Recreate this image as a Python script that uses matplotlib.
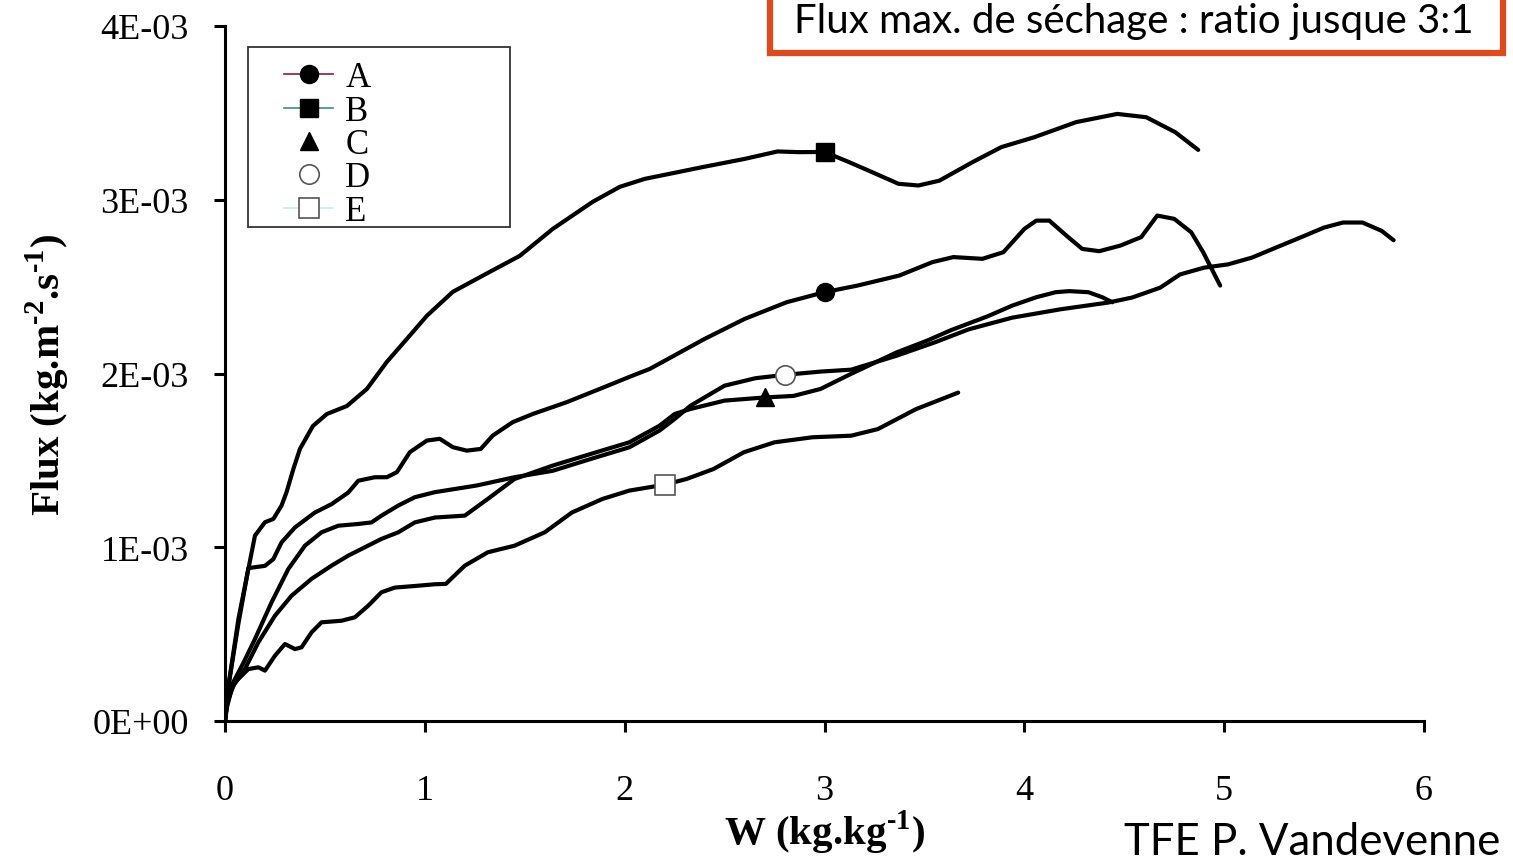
import numpy as np
import matplotlib
matplotlib.use("Agg")
import matplotlib.pyplot as plt
from matplotlib.lines import Line2D
from matplotlib.patches import Rectangle

plt.rcParams['font.family'] = ['Liberation Serif', 'DejaVu Serif']
plt.rcParams['mathtext.fontset'] = 'custom'
plt.rcParams['mathtext.rm'] = 'Liberation Serif:bold'
plt.rcParams['mathtext.bf'] = 'Liberation Serif:bold'

# W (kg/kg) and flux (x 1E-03 kg.m-2.s-1)
A_w = [0, 0.005, 0.017, 0.067, 0.117, 0.2, 0.242, 0.283, 0.35, 0.45, 0.533, 0.617, 0.667, 0.75, 0.81, 0.86,
       0.925, 1.01, 1.075, 1.14, 1.21, 1.28, 1.34, 1.44, 1.54, 1.71, 1.875, 2.04, 2.125, 2.4, 2.6, 2.81, 3.0,
       3.165, 3.375, 3.54, 3.645, 3.79, 3.895, 4.0, 4.06, 4.125, 4.21, 4.29, 4.375, 4.48, 4.585, 4.665, 4.75,
       4.835, 4.895, 4.98]
A_f = [0, 0.1, 0.2, 0.56, 0.88, 0.893, 0.932, 1.028, 1.114, 1.2, 1.248, 1.315, 1.383, 1.403, 1.403, 1.432,
       1.547, 1.614, 1.624, 1.576, 1.556, 1.566, 1.643, 1.72, 1.767, 1.835, 1.911, 1.988, 2.026, 2.199, 2.314,
       2.41, 2.468, 2.506, 2.564, 2.641, 2.67, 2.66, 2.698, 2.832, 2.88, 2.88, 2.794, 2.717, 2.704, 2.736,
       2.785, 2.909, 2.89, 2.813, 2.698, 2.506]

B_w = [0, 0.005, 0.017, 0.067, 0.117, 0.15, 0.2, 0.242, 0.283, 0.308, 0.342, 0.375, 0.44, 0.51, 0.61, 0.71,
       0.81, 0.91, 1.01, 1.14, 1.325, 1.475, 1.64, 1.84, 1.975, 2.1, 2.39, 2.6, 2.765, 2.87, 3.0, 3.12, 3.22,
       3.37, 3.47, 3.575, 3.74, 3.885, 4.05, 4.26, 4.465, 4.61, 4.755, 4.87]
B_f = [0, 0.1, 0.2, 0.587, 0.875, 1.067, 1.144, 1.163, 1.24, 1.317, 1.45, 1.566, 1.698, 1.767, 1.813, 1.911,
       2.067, 2.199, 2.332, 2.47, 2.585, 2.677, 2.832, 2.988, 3.074, 3.12, 3.188, 3.235, 3.278, 3.274, 3.275,
       3.218, 3.168, 3.092, 3.082, 3.11, 3.216, 3.303, 3.36, 3.447, 3.494, 3.475, 3.389, 3.287]

C_w = [0, 0.01, 0.04, 0.1, 0.167, 0.25, 0.333, 0.433, 0.533, 0.617, 0.7, 0.783, 0.867, 0.95, 1.05, 1.2,
       1.315, 1.449, 1.64, 1.83, 2.023, 2.175, 2.25, 2.33, 2.5, 2.7, 2.845, 2.98, 3.133, 3.36, 3.515, 3.63,
       3.818, 3.94, 4.06, 4.157, 4.225, 4.32, 4.39, 4.44]
C_f = [0, 0.1, 0.2, 0.3, 0.453, 0.606, 0.721, 0.818, 0.894, 0.952, 1.0, 1.048, 1.086, 1.143, 1.171, 1.182,
       1.278, 1.393, 1.47, 1.537, 1.604, 1.7, 1.767, 1.796, 1.844, 1.862, 1.871, 1.911, 1.998, 2.121, 2.19,
       2.248, 2.33, 2.391, 2.439, 2.468, 2.474, 2.468, 2.439, 2.41]

D_w = [0, 0.01, 0.04, 0.09, 0.15, 0.233, 0.317, 0.4, 0.483, 0.567, 0.667, 0.733, 0.783, 0.867, 0.95, 1.05,
       1.258, 1.449, 1.64, 1.83, 2.023, 2.175, 2.25, 2.33, 2.5, 2.655, 2.8, 2.98, 3.133, 3.36, 3.554, 3.721,
       3.938, 4.178, 4.418, 4.539, 4.68, 4.779, 4.899, 5.019, 5.139, 5.26, 5.38, 5.5, 5.595, 5.692, 5.788, 5.848]
D_f = [0, 0.1, 0.22, 0.33, 0.472, 0.683, 0.875, 1.009, 1.086, 1.124, 1.134, 1.143, 1.182, 1.24, 1.288, 1.317,
       1.355, 1.403, 1.44, 1.508, 1.575, 1.672, 1.738, 1.815, 1.93, 1.973, 1.992, 2.011, 2.022, 2.102, 2.18,
       2.254, 2.321, 2.369, 2.408, 2.437, 2.494, 2.57, 2.609, 2.628, 2.667, 2.725, 2.782, 2.84, 2.869, 2.869,
       2.821, 2.767]

E_w = [0, 0.01, 0.03, 0.05, 0.117, 0.167, 0.2, 0.25, 0.3, 0.35, 0.383, 0.433, 0.483, 0.583, 0.65, 0.717,
       0.783, 0.85, 0.95, 1.05, 1.105, 1.2, 1.315, 1.449, 1.6, 1.736, 1.889, 2.023, 2.2, 2.31, 2.444, 2.597,
       2.75, 2.94, 3.133, 3.267, 3.458, 3.669]
E_f = [0, 0.08, 0.17, 0.223, 0.299, 0.309, 0.29, 0.376, 0.443, 0.414, 0.424, 0.51, 0.568, 0.577, 0.597,
       0.664, 0.741, 0.768, 0.777, 0.787, 0.789, 0.894, 0.971, 1.009, 1.086, 1.2, 1.278, 1.326, 1.36, 1.393,
       1.45, 1.547, 1.604, 1.633, 1.642, 1.68, 1.795, 1.89]

series = ['A', 'B', 'C', 'D', 'E']
curves_w = [A_w, B_w, C_w, D_w, E_w]
curves_f = [A_f, B_f, C_f, D_f, E_f]

# one marker per curve
mark_w = [3.0, 3.0, 2.7, 2.8, 2.2]
mark_f = [2.468, 3.275, 1.862, 1.992, 1.36]

x_ticks = [0, 1, 2, 3, 4, 5, 6]
y_ticks = [0, 1, 2, 3, 4]
y_tick_labels = ['0E+00', '1E-03', '2E-03', '3E-03', '4E-03']

title_txt = "Flux max. de séchage : ratio jusque 3:1"
credit_txt = "TFE P. Vandevenne"

fig = plt.figure(figsize=(15.13, 8.62), dpi=100)
ax = fig.add_axes([225/1513, 1 - 722/862, 1199/1513, 695/862])

for w, f in zip(curves_w, curves_f):
    ax.plot(w, np.array(f) * 1e-3, color='black', lw=3.0, solid_capstyle='round',
            solid_joinstyle='round', zorder=2)

styles = [dict(marker='o', mfc='black', mec='black', ms=13),
          dict(marker='s', mfc='black', mec='black', ms=13),
          dict(marker='^', mfc='black', mec='black', ms=13),
          dict(marker='o', mfc='white', mec='#555555', ms=14, mew=1.2),
          dict(marker='s', mfc='white', mec='#555555', ms=14, mew=1.2)]
for i in range(5):
    ax.plot([mark_w[i]], [mark_f[i] * 1e-3], ls='none', zorder=3, **styles[i])

ax.set_xlim(0, 6)
ax.set_ylim(0, 4e-3)
ax.set_xticks(x_ticks)
ax.set_yticks(np.array(y_ticks) * 1e-3)
ax.set_yticklabels(y_tick_labels)
ax.spines['top'].set_visible(False)
ax.spines['right'].set_visible(False)
for s in ['left', 'bottom']:
    ax.spines[s].set_linewidth(2.2)
ax.tick_params(axis='both', direction='out', width=2.2, length=8, labelsize=26)
ax.tick_params(axis='x', pad=30)
ax.tick_params(axis='y', pad=18)
ax.spines['left'].set_zorder(4)

ax.set_xlabel(r'W (kg.kg$^{\text{-}\mathbf{1}}$)', fontsize=29.5, fontweight='bold')
ax.xaxis.set_label_coords(0.5, -0.125)
ax.set_ylabel(r'Flux (kg.m$^{\text{-}\mathbf{2}}$.s$^{\text{-}\mathbf{1}}$)', fontsize=29.5, fontweight='bold')
ax.yaxis.set_label_coords(-0.128, 0.5)

# legend
leg_cols = ['#8b1a3a', '#3c8c8c', 'none', 'none', '#c8ecec']
handles = []
for i in range(5):
    handles.append(Line2D([0], [0], color=leg_cols[i], lw=1.2, **styles[i]))
ax.add_patch(Rectangle((23/1199, 1 - 228/695 + 27/695), 262/1199, 180/695, transform=ax.transAxes,
                       facecolor='white', edgecolor='#333333', lw=1.3, zorder=5))
leg = ax.legend(handles, series, loc='upper left', bbox_to_anchor=(0.038, 0.969), frameon=False,
                fontsize=25, handlelength=1.4, handletextpad=0.35, labelspacing=0.01, borderaxespad=0)
leg.set_zorder(6)

# orange box and credit
fig.patches.append(Rectangle((770/1513, 1 - 54/862), 733/1513, 0.2, transform=fig.transFigure,
                             facecolor='white', edgecolor='#e04a1a', lw=4.5))
fig.text(1134/1513, 1 - 22/862, title_txt, fontsize=29, family='Lato', ha='center', va='center')
fig.text(1500/1513, 1 - 843/862, credit_txt, fontsize=31.5, family='Lato', ha='right', va='center')

fig.savefig('out.png', dpi=100)
